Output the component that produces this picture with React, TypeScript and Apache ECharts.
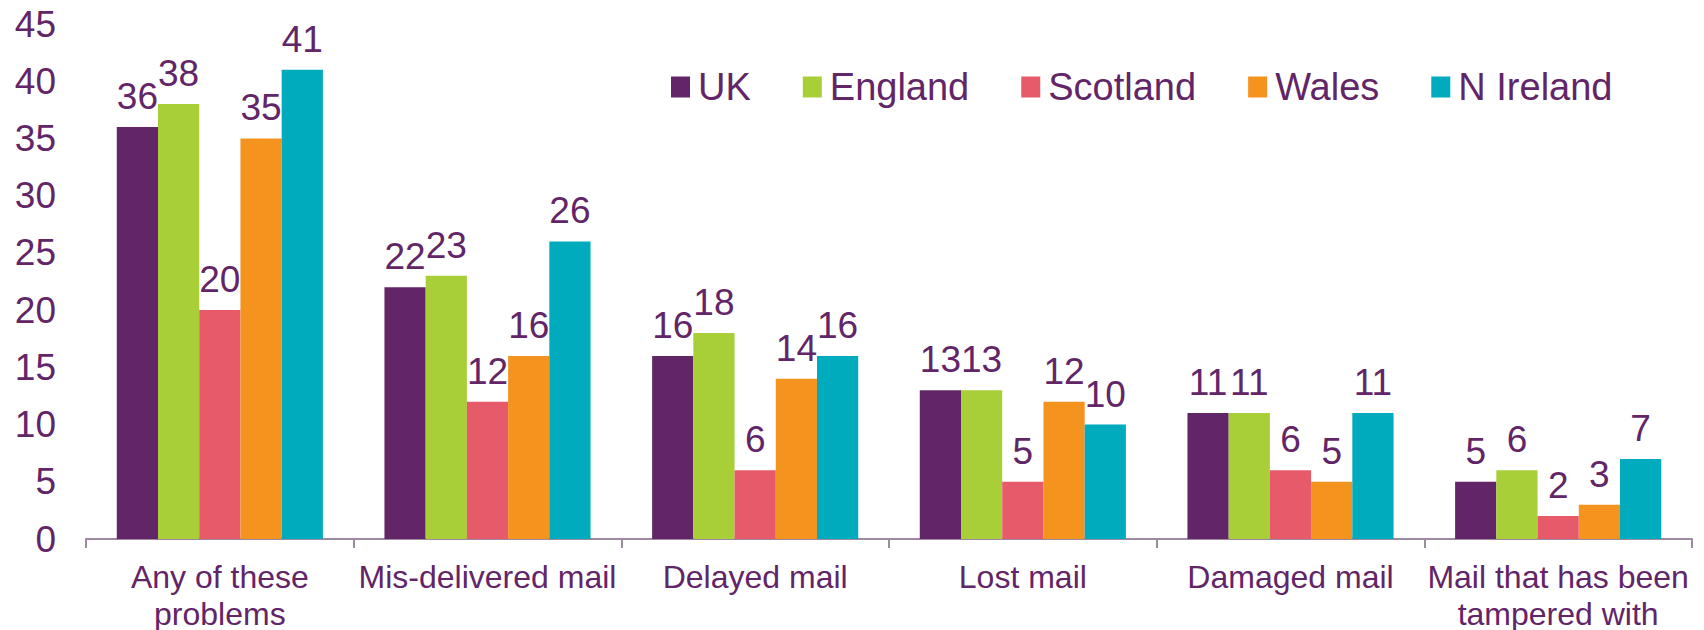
import React, { useEffect, useRef } from "react";
import * as echarts from "echarts";

const categories = [
  "Any of these\nproblems",
  "Mis-delivered mail",
  "Delayed mail",
  "Lost mail",
  "Damaged mail",
  "Mail that has been\ntampered with",
];
const seriesNames = ["UK", "England", "Scotland", "Wales", "N Ireland"];
const uk = [36, 22, 16, 13, 11, 5];
const england = [38, 23, 18, 13, 11, 6];
const scotland = [20, 12, 6, 5, 6, 2];
const wales = [35, 16, 14, 12, 5, 3];
const nIreland = [41, 26, 16, 10, 11, 7];
const colors = ["#622567", "#a9cf38", "#e65a6a", "#f5931f", "#00abbd"];
const textColor = "#622567";
const font = "'Liberation Sans', Arial, sans-serif";

export default function App() {
  const ref = useRef<HTMLDivElement>(null);
  useEffect(() => {
    if (!ref.current) return;
    const chart = echarts.init(ref.current, undefined, { renderer: "svg" });
    const data = [uk, england, scotland, wales, nIreland];
    chart.setOption({
      animation: false,
      textStyle: { fontFamily: font },
      grid: { left: 86, right: 12, top: 24, bottom: 91, outerBoundsMode: "none", containLabel: false },
      legend: {
        left: 666,
        top: 63,
        itemWidth: 19,
        itemHeight: 21,
        itemGap: 52,
        icon: "rect",
        textStyle: { color: textColor, fontSize: 38, fontFamily: font, padding: [0, 0, 0, 3] },
        data: seriesNames,
      },
      xAxis: {
        type: "category",
        data: categories,
        axisLine: { lineStyle: { color: "#9e8aa0", width: 2 } },
        axisTick: { show: true, length: 9, alignWithLabel: false, lineStyle: { color: "#9e8aa0", width: 2 } },
        axisLabel: { color: textColor, fontSize: 32, lineHeight: 37, margin: 19, interval: 0, fontFamily: font },
      },
      yAxis: {
        type: "value",
        min: 0,
        max: 45,
        interval: 5,
        axisLine: { show: false },
        axisTick: { show: false },
        splitLine: { show: false },
        axisLabel: { color: textColor, fontSize: 37, margin: 30, fontFamily: font },
      },
      series: seriesNames.map((name, i) => ({
        name,
        type: "bar",
        data: data[i],
        barGap: "0%",
        barCategoryGap: "23%",
        itemStyle: { color: colors[i] },
        label: {
          show: true,
          position: "top",
          distance: 12,
          color: textColor,
          fontSize: 37,
          fontFamily: font,
        },
      })),
    });
    return () => chart.dispose();
  }, []);
  return (
    <div
      ref={ref}
      style={{ position: "absolute", left: 0, top: 0, width: 1704, height: 630 }}
    />
  );
}
